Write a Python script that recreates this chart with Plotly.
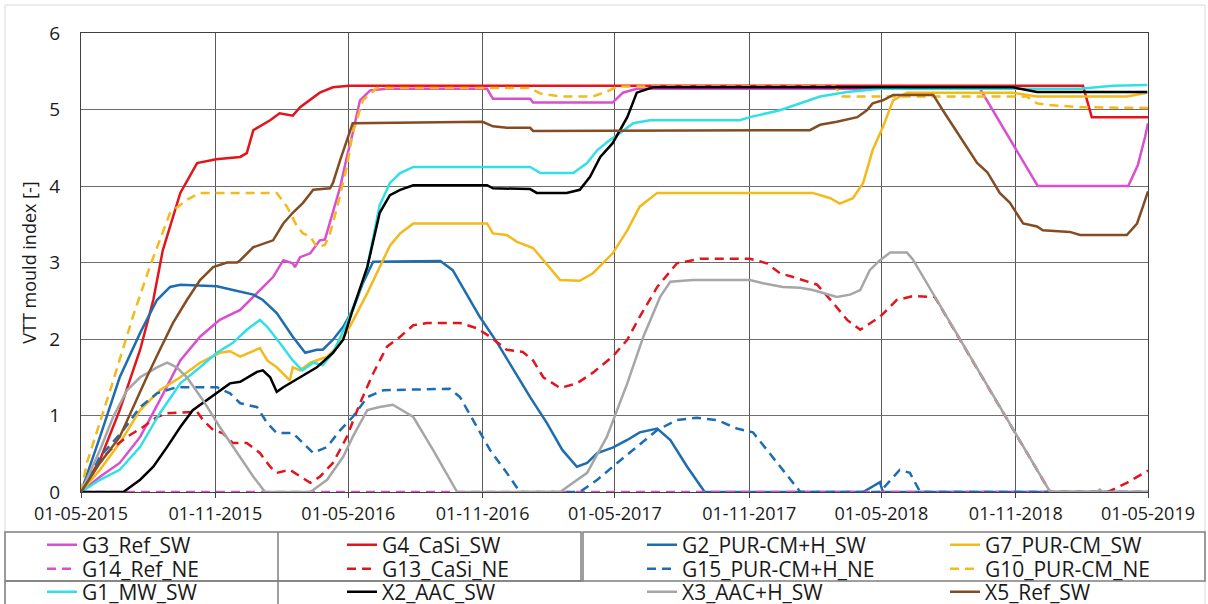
import pandas as pd
import plotly.graph_objects as go

START = pd.Timestamp("2015-05-01")
END = pd.Timestamp("2019-05-01")

# Tick labels on the date axis (every six months)
tick_dates = ["2015-05-01", "2015-11-01", "2016-05-01", "2016-11-01", "2017-05-01",
              "2017-11-01", "2018-05-01", "2018-11-01", "2019-05-01"]
tick_labels = ["01-05-2015", "01-11-2015", "01-05-2016", "01-11-2016", "01-05-2017",
               "01-11-2017", "01-05-2018", "01-11-2018", "01-05-2019"]

# Each series: days since 01-05-2015 and VTT mould index
g3_days = [0, 26, 53, 81, 108, 136, 163, 190, 218, 245, 263, 277, 290, 293, 300, 314, 327, 334, 345, 355,
           364, 372, 382, 396, 419, 556, 564, 615, 619, 728, 742, 761, 1231, 1310, 1434, 1447, 1457, 1461]
g3_vals = [0, 0.2, 0.38, 0.72, 1.2, 1.72, 2.03, 2.25, 2.38, 2.64, 2.81, 3.03, 2.99, 2.94, 3.07, 3.12, 3.29, 3.3,
           3.65, 3.99, 4.38, 4.69, 5.12, 5.25, 5.27, 5.27, 5.14, 5.14, 5.09, 5.09, 5.22, 5.27, 5.27, 4.0, 4.0,
           4.27, 4.64, 4.82]

g4_days = [0, 26, 53, 81, 99, 112, 136, 159, 185, 218, 227, 236, 259, 272, 290, 300, 327, 345, 367, 1372,
           1384, 1461]
g4_vals = [0, 0.42, 1.07, 1.86, 2.51, 3.16, 3.91, 4.30, 4.35, 4.38, 4.43, 4.73, 4.86, 4.95, 4.92, 5.03, 5.22,
           5.29, 5.31, 5.31, 4.90, 4.90]

g2_days = [0, 26, 53, 81, 104, 122, 136, 186, 208, 236, 249, 268, 290, 307, 323, 331, 345, 359, 372, 386,
           400, 492, 509, 546, 570, 592, 615, 638, 659, 679, 693, 707, 728, 748, 765, 789, 807, 830, 854,
           1071, 1094, 1098, 1461]
g2_vals = [0, 0.72, 1.5, 2.08, 2.51, 2.68, 2.71, 2.69, 2.64, 2.58, 2.51, 2.34, 2.03, 1.82, 1.86, 1.86, 1.99,
           2.16, 2.38, 2.73, 3.01, 3.02, 2.9, 2.29, 1.95, 1.6, 1.24, 0.9, 0.55, 0.33, 0.38, 0.51, 0.58, 0.68,
           0.78, 0.83, 0.68, 0.33, 0, 0, 0.13, 0, 0]

g7_days = [0, 26, 53, 81, 108, 136, 163, 190, 204, 218, 245, 255, 268, 282, 286, 290, 300, 314, 337, 351,
           368, 392, 409, 423, 437, 455, 556, 564, 583, 597, 619, 633, 656, 683, 701, 728, 748, 765, 789,
           1002, 1026, 1039, 1057, 1071, 1084, 1098, 1112, 1131, 1276, 1309, 1432, 1460]
g7_vals = [0, 0.29, 0.64, 1.07, 1.33, 1.5, 1.69, 1.82, 1.84, 1.77, 1.88, 1.72, 1.63, 1.5, 1.46, 1.63, 1.59,
           1.69, 1.77, 1.9, 2.16, 2.6, 2.95, 3.22, 3.38, 3.51, 3.51, 3.38, 3.36, 3.27, 3.19, 3.03, 2.77, 2.76,
           2.86, 3.12, 3.42, 3.73, 3.91, 3.91, 3.84, 3.77, 3.84, 4.04, 4.47, 4.77, 5.12, 5.22, 5.22, 5.17,
           5.17, 5.22]

g14_days = [0, 1461]
g14_vals = [0, 0]

g13_days = [0, 16, 40, 63, 85, 104, 118, 159, 167, 181, 194, 208, 227, 245, 259, 268, 286, 300, 314, 327,
            345, 364, 382, 400, 419, 437, 455, 474, 519, 542, 560, 583, 605, 619, 633, 656, 679, 701, 728,
            748, 765, 789, 816, 848, 916, 939, 957, 975, 1008, 1030, 1049, 1067, 1094, 1117, 1139, 1169,
            1327, 1406, 1432, 1461]
g13_vals = [0, 0.29, 0.55, 0.72, 0.85, 0.98, 1.03, 1.05, 0.94, 0.81, 0.77, 0.64, 0.64, 0.51, 0.33, 0.25,
            0.29, 0.2, 0.12, 0.2, 0.38, 0.72, 1.16, 1.55, 1.9, 2.03, 2.18, 2.21, 2.21, 2.14, 2.03, 1.86, 1.83,
            1.72, 1.5, 1.36, 1.42, 1.56, 1.77, 1.99, 2.29, 2.68, 2.99, 3.05, 3.05, 2.99, 2.86, 2.81, 2.71,
            2.47, 2.25, 2.12, 2.29, 2.51, 2.56, 2.55, 0, 0, 0.12, 0.28]

g15_days = [0, 26, 58, 81, 104, 131, 186, 204, 218, 241, 255, 268, 290, 309, 318, 337, 355, 372, 392, 414,
            505, 519, 537, 560, 583, 601, 683, 707, 728, 761, 789, 816, 843, 871, 898, 920, 939, 957, 975,
            985, 1094, 1121, 1135, 1149, 1461]
g15_vals = [0, 0.46, 0.81, 1.11, 1.29, 1.37, 1.37, 1.29, 1.16, 1.11, 0.9, 0.77, 0.77, 0.59, 0.51, 0.59,
            0.81, 0.98, 1.24, 1.33, 1.35, 1.24, 0.94, 0.55, 0.25, 0, 0, 0.16, 0.33, 0.59, 0.81, 0.94, 0.97,
            0.94, 0.83, 0.78, 0.55, 0.33, 0.12, 0, 0, 0.29, 0.25, 0, 0]

g10_days = [0, 8, 40, 71, 94, 108, 122, 145, 163, 268, 282, 296, 304, 314, 323, 334, 341, 351, 364, 372,
            386, 405, 615, 629, 656, 701, 724, 734, 1032, 1043, 1295, 1309, 1323, 1368, 1461]
g10_vals = [0, 0.38, 1.33, 2.29, 2.94, 3.29, 3.65, 3.82, 3.91, 3.91, 3.73, 3.47, 3.38, 3.34, 3.2, 3.23,
            3.38, 3.73, 4.25, 4.69, 5.12, 5.28, 5.28, 5.21, 5.17, 5.17, 5.25, 5.3, 5.3, 5.17, 5.17, 5.08,
            5.06, 5.03, 5.02]

g1_days = [0, 26, 53, 81, 108, 136, 163, 186, 208, 227, 245, 255, 272, 290, 303, 318, 331, 345, 364, 382,
           392, 409, 423, 437, 455, 615, 629, 674, 693, 707, 724, 738, 756, 779, 902, 916, 957, 985, 1012,
           1049, 1094, 1368, 1413, 1460]
g1_vals = [0, 0.16, 0.29, 0.59, 1.03, 1.42, 1.63, 1.82, 1.95, 2.12, 2.25, 2.16, 1.95, 1.72, 1.59, 1.69,
           1.66, 1.82, 2.21, 2.64, 2.94, 3.75, 4.04, 4.17, 4.25, 4.25, 4.17, 4.17, 4.3, 4.47, 4.6, 4.69, 4.82,
           4.86, 4.86, 4.9, 4.99, 5.08, 5.17, 5.23, 5.27, 5.27, 5.31, 5.32]

x2_days = [0, 58, 81, 99, 118, 136, 153, 177, 204, 218, 241, 249, 259, 268, 277, 300, 323, 345, 359, 372,
           392, 409, 423, 437, 455, 556, 564, 615, 624, 665, 683, 697, 711, 728, 748, 761, 783, 1276, 1309,
           1460]
x2_vals = [0, 0, 0.16, 0.33, 0.59, 0.85, 1.07, 1.24, 1.42, 1.44, 1.57, 1.59, 1.5, 1.31, 1.37, 1.5, 1.63,
           1.82, 1.99, 2.38, 2.94, 3.65, 3.88, 3.95, 4.01, 4.01, 3.97, 3.96, 3.91, 3.91, 3.95, 4.12, 4.38,
           4.56, 4.9, 5.22, 5.29, 5.29, 5.23, 5.23]

x3_days = [0, 26, 44, 63, 81, 104, 118, 131, 145, 167, 190, 218, 236, 252, 314, 337, 359, 372, 392, 409,
           427, 455, 482, 515, 656, 693, 720, 748, 770, 793, 807, 838, 916, 934, 961, 985, 1002, 1035, 1053,
           1067, 1080, 1094, 1108, 1131, 1139, 1327, 1391, 1395, 1399, 1461]
x3_vals = [0, 0.55, 0.98, 1.33, 1.5, 1.63, 1.69, 1.63, 1.5, 1.2, 0.85, 0.46, 0.2, 0, 0, 0.16, 0.46, 0.72,
           1.07, 1.11, 1.14, 0.98, 0.55, 0, 0, 0.25, 0.72, 1.42, 2.03, 2.55, 2.75, 2.77, 2.77, 2.73, 2.68,
           2.67, 2.64, 2.55, 2.58, 2.64, 2.9, 3.03, 3.13, 3.13, 3.04, 0, 0, 0.03, 0, 0]

x5_days = [0, 26, 53, 71, 90, 108, 126, 145, 163, 181, 200, 214, 218, 236, 255, 263, 277, 290, 304, 318,
           341, 345, 355, 364, 372, 550, 564, 583, 615, 619, 998, 1012, 1035, 1063, 1076, 1084, 1098, 1112,
           1167, 1180, 1204, 1227, 1241, 1258, 1272, 1290, 1309, 1317, 1354, 1368, 1432, 1446, 1454, 1461]
x5_vals = [0, 0.38, 0.72, 1.11, 1.5, 1.86, 2.21, 2.51, 2.77, 2.94, 3.0, 3.0, 3.03, 3.2, 3.27, 3.29, 3.51,
           3.65, 3.78, 3.95, 3.97, 4.04, 4.34, 4.6, 4.82, 4.84, 4.78, 4.76, 4.76, 4.72, 4.73, 4.8, 4.84, 4.9,
           4.99, 5.08, 5.12, 5.19, 5.19, 4.99, 4.64, 4.3, 4.18, 3.91, 3.78, 3.51, 3.47, 3.42, 3.4, 3.36, 3.36,
           3.51, 3.73, 3.93]

MAGENTA = "#d94fd0"
RED = "#e3141c"
BLUE = "#1d6db0"
YELLOW = "#f4b91a"
CYAN = "#31e0e6"
BLACK = "#000000"
GREY = "#a6a6a6"
BROWN = "#834c22"
DASH = "9px,6px"

# (name, days, values, colour, dashed, legend row, legend column)
series = [
    ("G3_Ref_SW", g3_days, g3_vals, MAGENTA, False, 0, 0),
    ("G4_CaSi_SW", g4_days, g4_vals, RED, False, 0, 1),
    ("G2_PUR-CM+H_SW", g2_days, g2_vals, BLUE, False, 0, 2),
    ("G7_PUR-CM_SW", g7_days, g7_vals, YELLOW, False, 0, 3),
    ("G14_Ref_NE", g14_days, g14_vals, MAGENTA, True, 1, 0),
    ("G13_CaSi_NE", g13_days, g13_vals, RED, True, 1, 1),
    ("G15_PUR-CM+H_NE", g15_days, g15_vals, BLUE, True, 1, 2),
    ("G10_PUR-CM_NE", g10_days, g10_vals, YELLOW, True, 1, 3),
    ("G1_MW_SW", g1_days, g1_vals, CYAN, False, 2, 0),
    ("X2_AAC_SW", x2_days, x2_vals, BLACK, False, 2, 1),
    ("X3_AAC+H_SW", x3_days, x3_vals, GREY, False, 2, 2),
    ("X5_Ref_SW", x5_days, x5_vals, BROWN, False, 2, 3),
]

W, H = 1208, 604
L, R, T, B = 81, 60, 33, 112
PW, PH = W - L - R, H - T - B


def px_x(p):
    return (p - L) / PW


def px_y(p):
    return (H - B - p) / PH


FONT = "Open Sans"
TXT = "#1a1a1a"

# Legend grid: entry origins (pixels) for each column and row
LEG_COL_X = [42, 342, 642, 945]
LEG_ROW_Y = [545, 569, 592]

fig = go.Figure()
legends = {}
for i, (name, days, vals, colour, dashed, row, col) in enumerate(series):
    key = "legend" if i == 0 else f"legend{i + 1}"
    dates = START + pd.to_timedelta(days, unit="D")
    fig.add_trace(go.Scatter(
        x=dates, y=vals, name=name, mode="lines",
        line=dict(color=colour, width=2.5, dash=DASH if dashed else "solid"),
        legend=key, showlegend=True,
    ))
    legends[key] = dict(
        orientation="h", xanchor="left", yanchor="middle",
        x=px_x(LEG_COL_X[col]), y=px_y(LEG_ROW_Y[row]),
        bgcolor="rgba(0,0,0,0)", borderwidth=0,
        font=dict(family=FONT, size=21, color=TXT),
    )

fig.update_layout(
    width=W, height=H,
    margin=dict(l=L, r=R, t=T, b=B, autoexpand=False),
    paper_bgcolor="white", plot_bgcolor="white",
    font=dict(family=FONT, color=TXT),
    showlegend=True,
    **legends,
)

fig.update_xaxes(
    type="date", range=[START, END],
    tickvals=tick_dates, ticktext=tick_labels,
    tickfont=dict(family=FONT, size=18, color=TXT),
    showgrid=True, gridcolor="#595959", gridwidth=1,
    showline=True, linecolor="#404040", linewidth=1, mirror=True,
    ticks="outside", ticklen=5, tickcolor="#404040",
    zeroline=False,
)
fig.update_yaxes(
    range=[0, 6], tickvals=[0, 1, 2, 3, 4, 5, 6],
    tickfont=dict(family=FONT, size=19, color=TXT),
    showgrid=True, gridcolor="#6e6e6e", gridwidth=1,
    showline=True, linecolor="#404040", linewidth=1, mirror=True,
    ticks="", ticklabelstandoff=16,
    zeroline=False,
    title=dict(text="VTT mould index [-]", font=dict(family=FONT, size=18, color=TXT), standoff=8),
)

# Outer chart frame
fig.add_shape(type="rect", xref="paper", yref="paper",
              x0=px_x(5), x1=px_x(1205), y0=px_y(640), y1=px_y(5),
              line=dict(color="#d9d9d9", width=1), layer="below")

# Legend boxes
box_line = dict(color="#7f7f7f", width=1.5)
fig.add_shape(type="rect", xref="paper", yref="paper",
              x0=px_x(5), x1=px_x(581), y0=px_y(581), y1=px_y(532), line=box_line)
fig.add_shape(type="rect", xref="paper", yref="paper",
              x0=px_x(583), x1=px_x(1205), y0=px_y(581), y1=px_y(532), line=box_line)
fig.add_shape(type="line", xref="paper", yref="paper",
              x0=px_x(278), x1=px_x(278), y0=px_y(532), y1=px_y(640), line=box_line)
fig.add_shape(type="line", xref="paper", yref="paper",
              x0=px_x(5), x1=px_x(5), y0=px_y(581), y1=px_y(640), line=box_line)
fig.add_shape(type="line", xref="paper", yref="paper",
              x0=px_x(5), x1=px_x(583), y0=px_y(581), y1=px_y(581), line=box_line)

fig.write_html("out.html")
